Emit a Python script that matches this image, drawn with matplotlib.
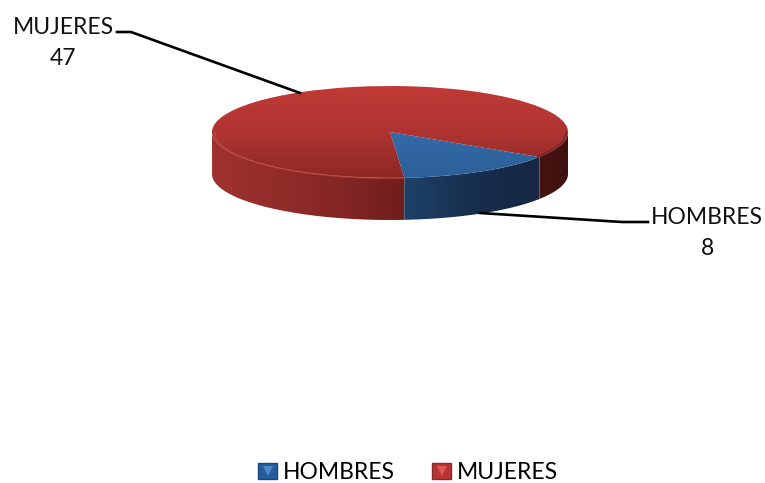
import numpy as np
import matplotlib
matplotlib.use("Agg")
import matplotlib.pyplot as plt
from matplotlib.colors import LinearSegmentedColormap
from matplotlib.legend_handler import HandlerTuple
from matplotlib.lines import Line2D
from matplotlib.patches import Patch, PathPatch
from matplotlib.path import Path

categories = ["HOMBRES", "MUJERES"]
values = [8, 47]

W, H = 765, 483
CX, CY, RX, RY, DEPTH = 390, 132, 178, 46, 42
START = -33
FONT = "Lato"
FS = 16.5

fig = plt.figure(figsize=(W / 100, H / 100), dpi=100, facecolor="white")
ax = fig.add_axes([0, 0, 1, 1])

wedges, _ = ax.pie(values, startangle=START, counterclock=False, radius=1.0)
ax.set_aspect("auto")
XLIM = (-CX / RX, (W - CX) / RX)
YLIM = ((CY - H) / RY, CY / RY)
D = DEPTH / RY


def cmap(*cols):
    return LinearSegmentedColormap.from_list("c", [np.array(c) / 255 for c in cols])


def gradient(clip, extent, colours, horizontal, z):
    g = np.linspace(0, 1, 256)
    g = g[None, :] if horizontal else g[:, None]
    im = ax.imshow(g, extent=extent, origin="lower" if horizontal else "upper",
                   cmap=cmap(*colours), aspect="auto", zorder=z, interpolation="bilinear")
    patch = PathPatch(clip, transform=ax.transData, fc="none", ec="none")
    ax.add_patch(patch)
    im.set_clip_path(patch)


def wall(a0, a1):
    t = np.radians(np.linspace(a0, a1, 100))
    x, y = np.cos(t), np.sin(t)
    return Path(np.r_[np.c_[x, y], np.c_[x, y - D][::-1], [[x[0], y[0]]]])


# angular spans derived from the values (clockwise from START)
a_h_end = START - 360 * values[0] / sum(values)
x_h_end = np.cos(np.radians(a_h_end))
x_start = np.cos(np.radians(START))

# walls
gradient(wall(a_h_end, -180), [-1, x_h_end, -2.2, 1],
         [(160, 50, 46), (140, 42, 40), (112, 30, 28)], True, 1)
gradient(wall(START, a_h_end), [x_h_end, x_start, -2.2, 1],
         [(30, 66, 106), (24, 46, 78), (22, 40, 68)], True, 1)
gradient(wall(0, START), [x_start, 1, -2.2, 1],
         [(72, 20, 18), (62, 18, 16)], True, 1)

# top faces: gradient clipped to the pie's own wedges
for w, cols in zip(wedges, [[(58, 115, 182), (44, 96, 152)],
                            [(192, 58, 54), (176, 52, 50), (140, 40, 38)]]):
    w.set_facecolor("none")
    w.set_edgecolor("none")
    w.set_zorder(3)
    gradient(w.get_path().transformed(w.get_patch_transform()), [-1, 1, -1, 1], cols, False, 2)

# rim highlight on the red slice
t = np.radians(np.linspace(-180, a_h_end, 120))
ax.plot(0.985 * np.cos(t), 0.985 * np.sin(t) - 0.02, color=(200 / 255, 75 / 255, 68 / 255),
        lw=1.1, alpha=0.65, zorder=4)
t = np.radians(np.linspace(START, 0, 40))
ax.plot(0.99 * np.cos(t), 0.99 * np.sin(t), color=(120 / 255, 35 / 255, 32 / 255),
        lw=1.5, alpha=0.8, zorder=4)

ax.set_xlim(XLIM)
ax.set_ylim(YLIM)
ax.axis("off")


def px(x, y):
    return x / W, 1 - y / H


def leader(points):
    xs, ys = zip(*[px(*p) for p in points])
    fig.add_artist(Line2D(xs, ys, color="black", lw=1.9, zorder=0.5, solid_joinstyle="round"))


leader([(117, 32), (131, 32), (300, 93)])
leader([(480, 213), (622, 222), (648, 222)])

fig.text(*px(63, 43), f"{categories[1]}\n{values[1]}", ha="center", va="center",
         family=FONT, fontsize=FS, linespacing=1.62, color="#111111")
fig.text(*px(707, 233), f"{categories[0]}\n{values[0]}", ha="center", va="center",
         family=FONT, fontsize=FS, linespacing=1.62, color="#111111")

handles = [
    (Patch(fc=(38 / 255, 92 / 255, 160 / 255), ec=(30 / 255, 70 / 255, 120 / 255)),
     Line2D([], [], marker="v", ms=7, mew=0, color=(80 / 255, 135 / 255, 198 / 255), ls="none")),
    (Patch(fc=(185 / 255, 52 / 255, 48 / 255), ec=(140 / 255, 40 / 255, 38 / 255)),
     Line2D([], [], marker="v", ms=7, mew=0, color=(220 / 255, 88 / 255, 84 / 255), ls="none")),
]
fig.legend(handles, categories, handler_map={tuple: HandlerTuple(ndivide=1, pad=0)},
           loc="center", bbox_to_anchor=px(408, 472.5), ncol=2, frameon=False,
           prop={"family": FONT, "size": FS}, handlelength=0.85, handleheight=0.7,
           handletextpad=0.25, columnspacing=1.6, borderpad=0)

fig.savefig("out.png", dpi=100, facecolor="white")
